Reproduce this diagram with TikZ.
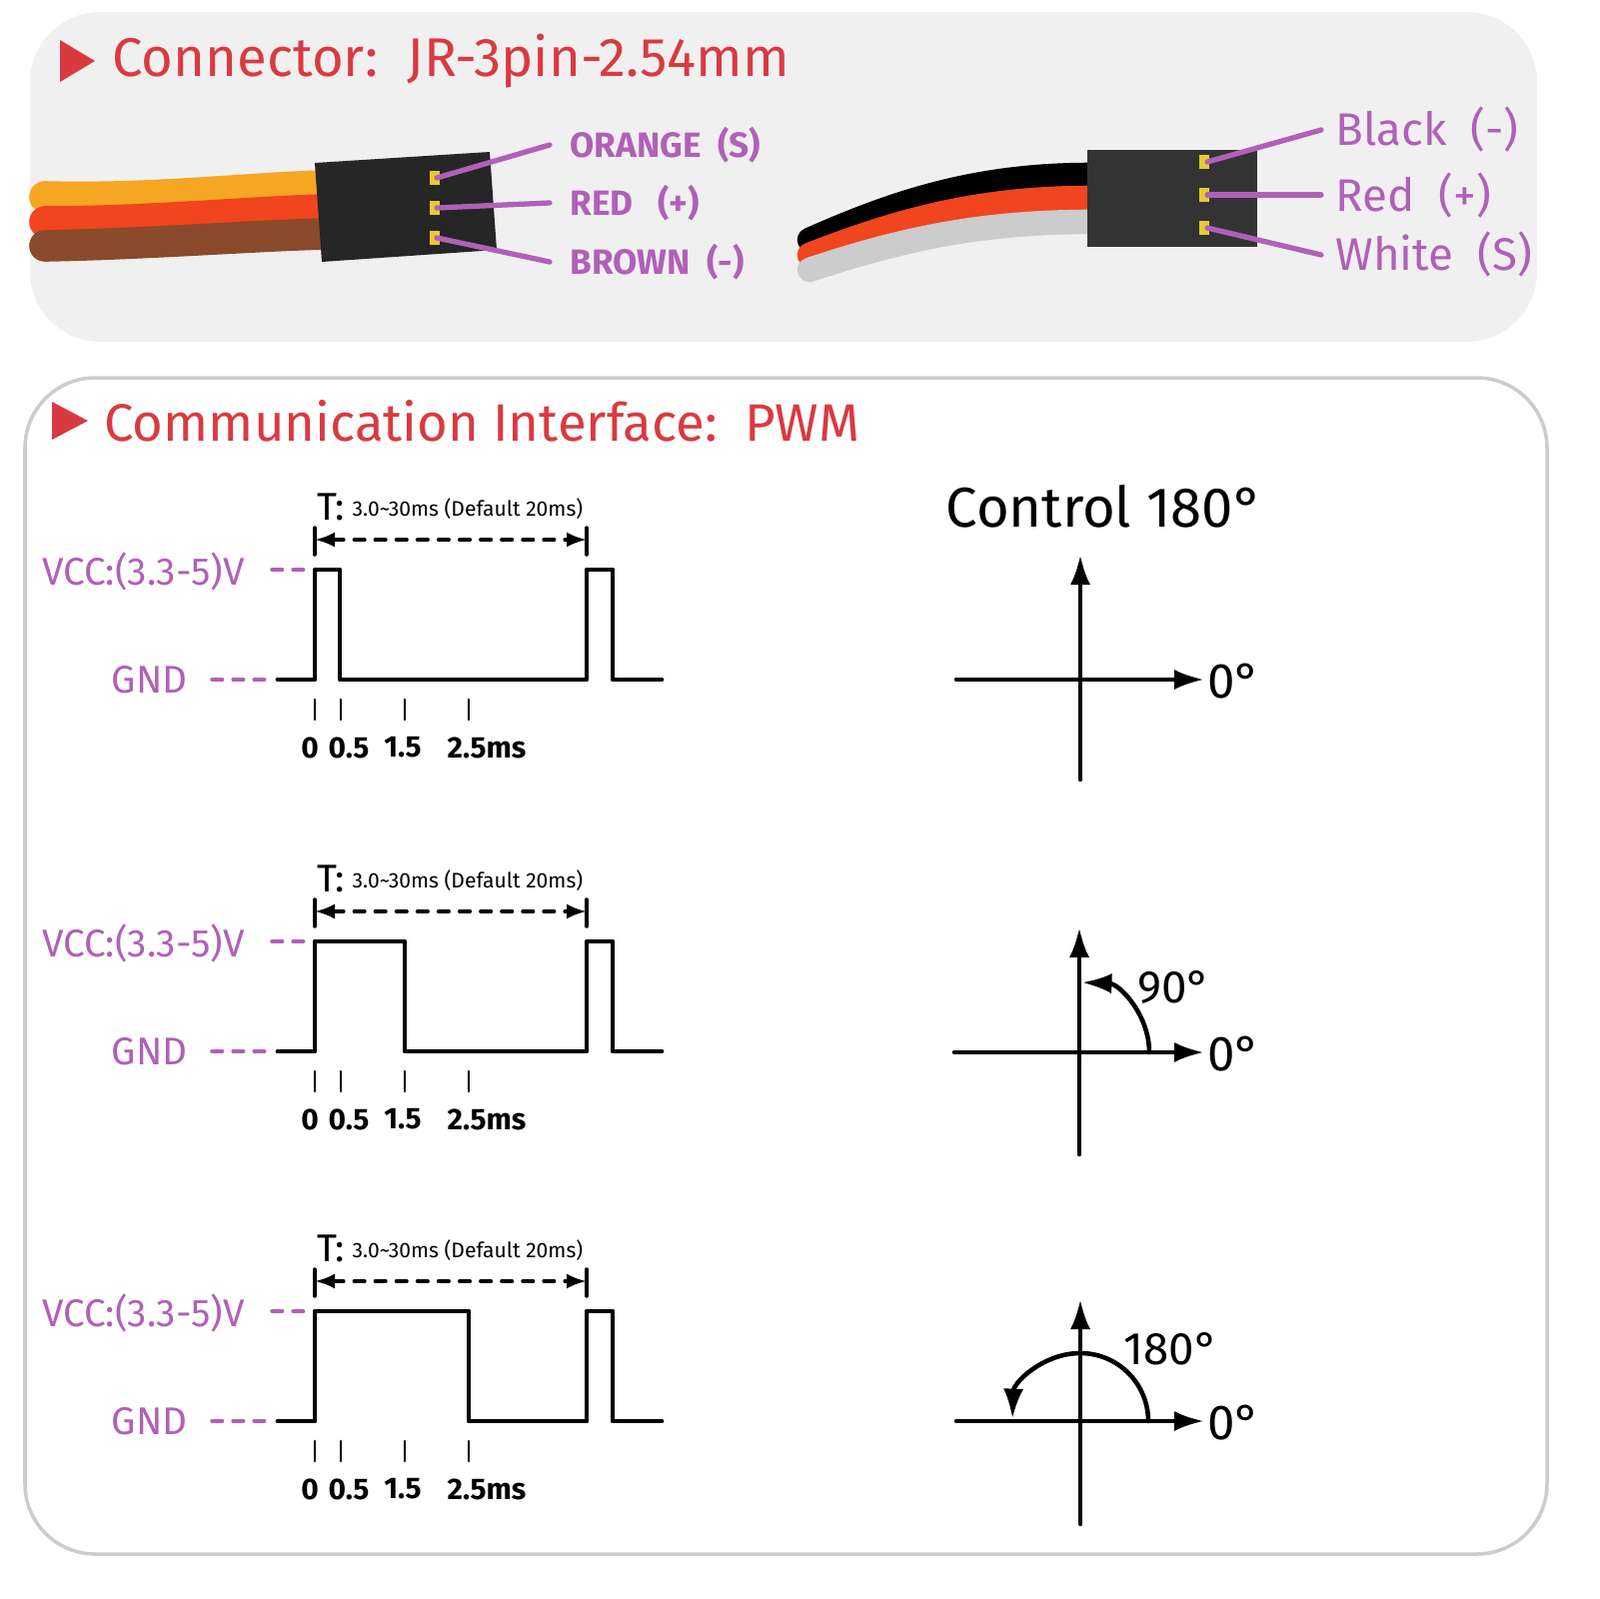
\documentclass[tikz,border=0pt]{standalone}
\usepackage{fontspec}
\setmainfont{Fira Sans}
\usetikzlibrary{arrows.meta}
\definecolor{titlered}{HTML}{D93A40}
\definecolor{lblpurple}{HTML}{B060B8}
\definecolor{wireorange}{HTML}{F5A623}
\definecolor{wirered}{HTML}{F0451E}
\definecolor{wirebrown}{HTML}{8B4A2B}
\tikzset{
  sig/.style={line width=1.4pt},
  lvl/.style={text=lblpurple,font=\fontsize{11}{13}\selectfont,anchor=east},
  pinlbl/.style={text=lblpurple,font=\fontsize{10}{12}\selectfont,anchor=west},
  tick/.style={font=\fontsize{8.5}{10}\selectfont\bfseries},
  axis/.style={line width=1.3pt,-{Latex[length=3mm,width=2mm]}}
}
\begin{document}
\begin{tikzpicture}[x=0.1mm,y=-0.1mm,line cap=round,line join=round]
\useasboundingbox (0,0) rectangle (1600,1600);
\fill[white] (0,0) rectangle (1600,1600);
% connector panel
\fill[gray!12,rounded corners=20] (30,12) rectangle (1538,342);
\fill[titlered] (60,40) -- (95,61) -- (60,82) -- cycle;
\node[anchor=west,text=titlered,font=\fontsize{15.5}{18}\selectfont] (contitle) at (100,61) {Connector:\ \ JR-3pin-2.54mm};
% left plug
\draw[wireorange,line width=9pt] (45,197) .. controls (150,200) and (250,188) .. (325,186);
\draw[wirered,line width=9pt] (45,222) .. controls (150,222) and (250,212) .. (325,210);
\draw[wirebrown,line width=9pt] (45,246) .. controls (150,244) and (250,236) .. (325,234);
\fill[black!85] (315,163) -- (490,152) -- (497,250) -- (322,262) -- cycle;
\foreach \py/\ty/\name in {178/145/ORANGE\ \ (S), 208/203/RED\ \ \ (+), 238/262/BROWN\ \ (-)}{
  \fill[yellow!60!brown] (430,\py-7) rectangle (440,\py+7);
  \draw[lblpurple,line width=1.5pt] (437,\py) -- (550,\ty);
  \node[pinlbl] at (558,\ty) {\bfseries\name};
}
% right plug
\draw[black,line width=7pt] (810,240) .. controls (900,200) and (980,175) .. (1092,175);
\draw[wirered,line width=7pt] (810,255) .. controls (900,220) and (980,198) .. (1092,198);
\draw[gray!40,line width=7pt] (810,270) .. controls (900,240) and (980,222) .. (1092,222);
\fill[black!80] (1088,150) rectangle (1258,247);
\foreach \py/\ty/\name in {162/130/Black\ \ (-), 195/195/Red\ \ (+), 228/255/White\ \ (S)}{
  \fill[yellow!60!brown] (1200,\py-7) rectangle (1210,\py+7);
  \draw[lblpurple,line width=1.5pt] (1208,\py) -- (1322,\ty);
  \node[pinlbl,font=\fontsize{13}{15}\selectfont] at (1324,\ty) {\name};
}
% pwm panel
\draw[gray!40,line width=1pt,rounded corners=20] (25,378) rectangle (1548,1555);
\fill[titlered] (52,402) -- (88,421) -- (52,440) -- cycle;
\node[anchor=west,text=titlered,font=\fontsize{15}{18}\selectfont] (pwmtitle) at (92,421) {Communication Interface:\ \ PWM};
\node[font=\fontsize{16}{19}\selectfont] (ctrl) at (1105,507) {Control 180°};
\foreach \oy/\w in {0/340,372/405,742/469}{
  \begin{scope}[yshift=-\oy*0.1mm]
    \node[lvl] (vcc) at (257,572) {VCC:(3.3-5)V};
    \node[lvl] (gnd) at (200,680) {GND};
    \draw[lblpurple,line width=1pt,dash pattern=on 3pt off 3pt] (272,570) -- (310,570);
    \draw[lblpurple,line width=1pt,dash pattern=on 3pt off 3pt] (212,680) -- (270,680);
    \draw[sig] (278,680) -- (315,680) -- (315,570) -- (\w,570) -- (\w,680)
      -- (587,680) -- (587,570) -- (613,570) -- (613,680) -- (662,680);
    \foreach \tx in {315,341,405,469} \draw[line width=0.8pt] (\tx,700) -- (\tx,720);
    \node[tick] at (310,748) {0};
    \node[tick] at (349,748) {0.5};
    \node[tick] at (403,748) {1.5};
    \node[tick] at (487,748) {2.5ms};
    \draw[line width=1pt] (315,528) -- (315,555) (587,528) -- (587,555);
    \draw[line width=1pt,dashed,{Latex[length=2mm]}-{Latex[length=2mm]}] (315,540) -- (587,540);
    \node[font=\fontsize{11}{13}\selectfont] at (331,507) {T:};
    \node[anchor=west,inner sep=0pt,font=\fontsize{6}{8}\selectfont] at (352,509) {3.0\textasciitilde30ms (Default 20ms)};
  \end{scope}
}
% angle diagrams
\draw[axis] (1081,780) -- (1081,555);
\draw[axis] (957,680) -- (1205,680);
\node[font=\fontsize{14}{17}\selectfont] at (1235,682) {0°};
\draw[axis] (1080,1155) -- (1080,928);
\draw[axis] (955,1053) -- (1205,1053);
\node[font=\fontsize{14}{17}\selectfont] at (1235,1055) {0°};
\draw[line width=1.3pt,-{Latex[length=3mm,width=2mm]}] (1150,1053) arc[start angle=0,end angle=-88,radius=70];
\node[font=\fontsize{13}{15}\selectfont] at (1175,988) {90°};
\draw[axis] (1081,1525) -- (1081,1300);
\draw[axis] (957,1422) -- (1205,1422);
\node[font=\fontsize{14}{17}\selectfont] at (1235,1424) {0°};
\draw[line width=1.3pt,-{Latex[length=3mm,width=2mm]}] (1149,1422) arc[start angle=0,end angle=-178,radius=68];
\node[font=\fontsize{13}{15}\selectfont] at (1172,1350) {180°};
\end{tikzpicture}
\end{document}
